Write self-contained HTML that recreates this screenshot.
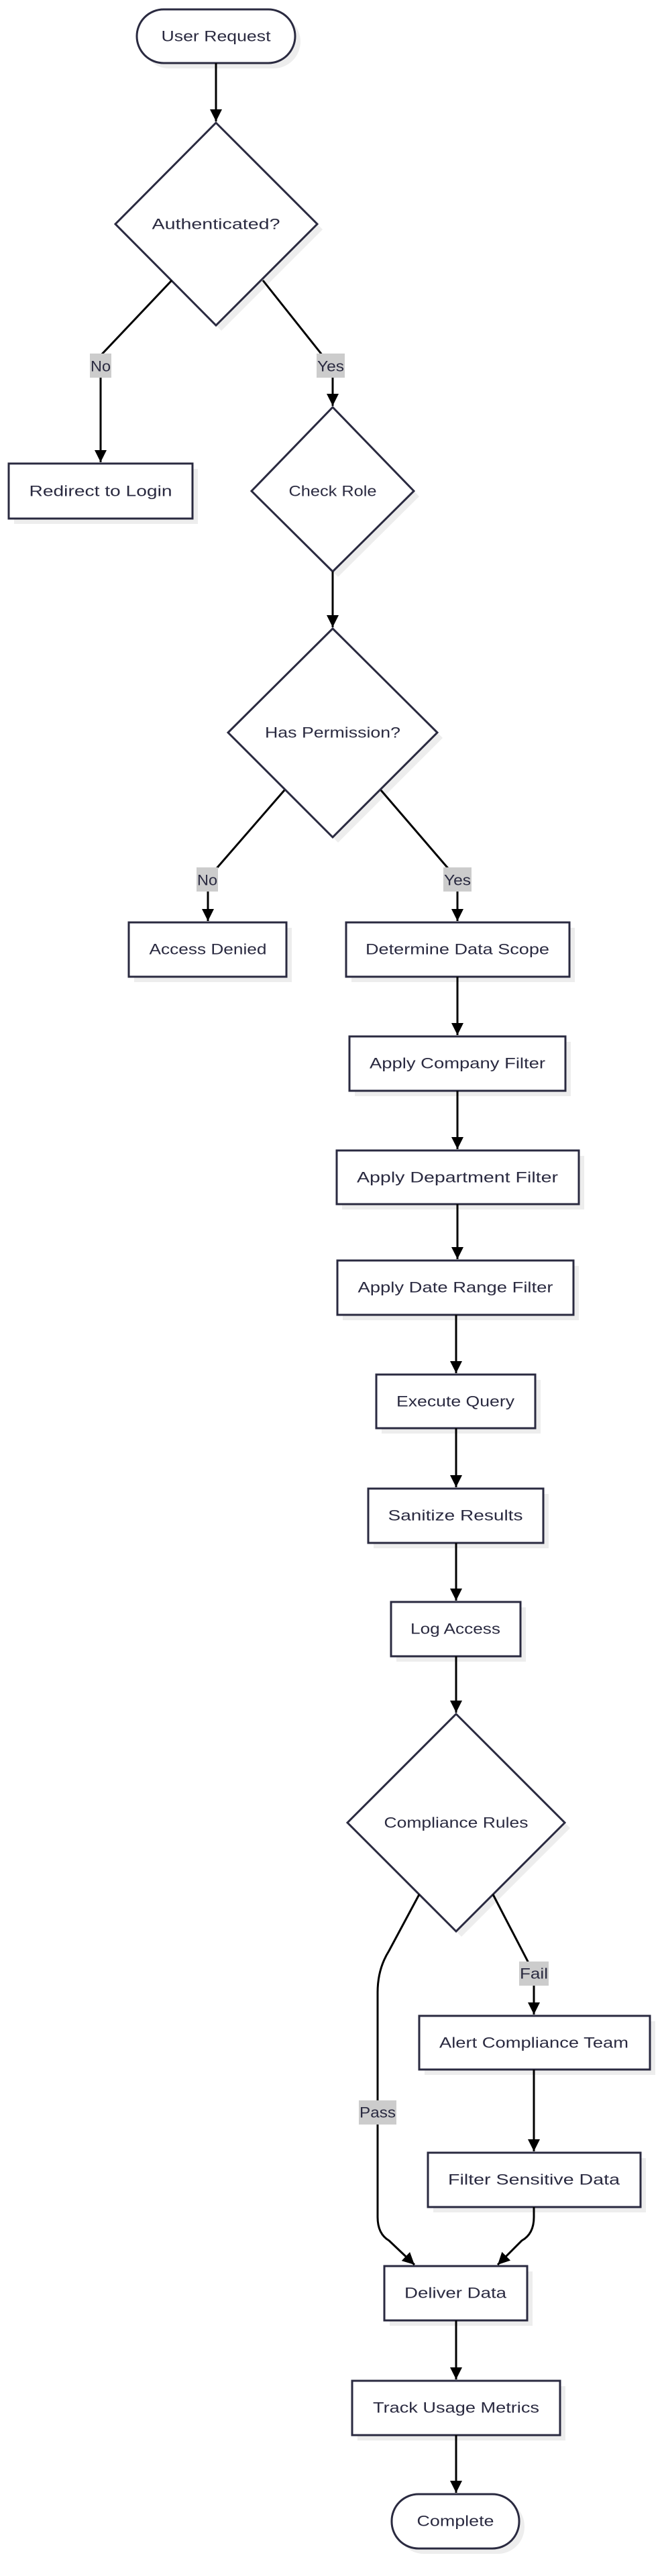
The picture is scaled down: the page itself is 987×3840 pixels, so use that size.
<!DOCTYPE html>
<html><head><meta charset="utf-8">
<style>
html,body{margin:0;padding:0;background:#fff;}
svg{display:block;}
text{font-family:"Liberation Sans",sans-serif;font-size:22px;fill:#2a2a40;}
</style></head>
<body>
<svg width="987" height="3840" viewBox="0 0 987 3840" xmlns="http://www.w3.org/2000/svg">
<defs>
<marker id="a" viewBox="0 0 10 10" refX="10" refY="5" markerUnits="userSpaceOnUse" markerWidth="20" markerHeight="18" orient="auto">
<path d="M0,0 L10,5 L0,10 z" fill="#000"/>
</marker>
</defs>

<!-- shadows -->
<g fill="#000" fill-opacity="0.07">
<rect x="212" y="22" width="236" height="80" rx="40"/>
<polygon points="330,191 481,342 330,493 180,342"/>
<rect x="21" y="699" width="274" height="82"/>
<polygon points="504,615 625,740 504,860 383,740"/>
<polygon points="504,945 660,1100 504,1256 348,1100"/>
<rect x="200" y="1383" width="235" height="81"/>
<rect x="524" y="1383" width="333" height="81"/>
<rect x="529" y="1553" width="322" height="81"/>
<rect x="510" y="1723" width="361" height="80"/>
<rect x="511" y="1887" width="352" height="81"/>
<rect x="569" y="2057" width="237" height="80"/>
<rect x="557" y="2227" width="261" height="81"/>
<rect x="591" y="2396" width="193" height="81"/>
<polygon points="688,2563 850,2725 688,2887 526,2725"/>
<rect x="633" y="3013" width="344" height="80"/>
<rect x="646" y="3217" width="317" height="81"/>
<rect x="581" y="3386" width="213" height="81"/>
<rect x="533" y="3557" width="310" height="81"/>
<rect x="592" y="3726" width="190" height="81" rx="40"/>
</g>

<!-- nodes -->
<g fill="#fff" stroke="#2a2a40" stroke-width="3">
<rect x="204" y="14" width="236" height="80" rx="40"/>
<polygon points="322,183 473,334 322,485 172,334"/>
<rect x="13" y="691" width="274" height="82"/>
<polygon points="496,607 617,732 496,852 375,732"/>
<polygon points="496,937 652,1092 496,1248 340,1092"/>
<rect x="192" y="1375" width="235" height="81"/>
<rect x="516" y="1375" width="333" height="81"/>
<rect x="521" y="1545" width="322" height="81"/>
<rect x="502" y="1715" width="361" height="80"/>
<rect x="503" y="1879" width="352" height="81"/>
<rect x="561" y="2049" width="237" height="80"/>
<rect x="549" y="2219" width="261" height="81"/>
<rect x="583" y="2388" width="193" height="81"/>
<polygon points="680,2555 842,2717 680,2879 518,2717"/>
<rect x="625" y="3005" width="344" height="80"/>
<rect x="638" y="3209" width="317" height="81"/>
<rect x="573" y="3378" width="213" height="81"/>
<rect x="525" y="3549" width="310" height="81"/>
<rect x="584" y="3718" width="190" height="81" rx="40"/>
</g>

<!-- edges -->
<g fill="none" stroke="#000" stroke-width="3">
<path d="M322,94 L322,181" marker-end="url(#a)"/>
<path d="M256,418 L150,530 L150,689" marker-end="url(#a)"/>
<path d="M392,418 L481,530 L496,560 L496,605" marker-end="url(#a)"/>
<path d="M496,852 L496,935" marker-end="url(#a)"/>
<path d="M424,1178 L325,1292 L310,1310 L310,1373" marker-end="url(#a)"/>
<path d="M568,1178 L666,1292 L682,1310 L682,1373" marker-end="url(#a)"/>
<path d="M682,1456 L682,1543" marker-end="url(#a)"/>
<path d="M682,1626 L682,1713" marker-end="url(#a)"/>
<path d="M682,1795 L682,1877" marker-end="url(#a)"/>
<path d="M680,1960 L680,2047" marker-end="url(#a)"/>
<path d="M680,2129 L680,2217" marker-end="url(#a)"/>
<path d="M680,2300 L680,2386" marker-end="url(#a)"/>
<path d="M680,2469 L680,2553" marker-end="url(#a)"/>
<path d="M735,2824 L787,2924 L796,2960 L796,3003" marker-end="url(#a)"/>
<path d="M625,2824 L580,2908 Q563,2935 563,2970 L563,3305 Q563,3330 580,3340 L618,3376" marker-end="url(#a)"/>
<path d="M796,3085 L796,3207" marker-end="url(#a)"/>
<path d="M796,3290 L796,3305 Q796,3330 778,3340 L742,3376" marker-end="url(#a)"/>
<path d="M680,3459 L680,3547" marker-end="url(#a)"/>
<path d="M680,3630 L680,3716" marker-end="url(#a)"/>
</g>

<!-- edge labels -->
<g fill="#cccccc">
<rect x="134" y="527" width="32" height="36"/>
<rect x="472" y="527" width="42" height="36"/>
<rect x="293" y="1293" width="32" height="36"/>
<rect x="661" y="1293" width="42" height="36"/>
<rect x="774" y="2924" width="44" height="36"/>
<rect x="535" y="3131" width="56" height="36"/>
</g>
<g text-anchor="middle" dominant-baseline="central">
<text x="150" y="546" textLength="30" lengthAdjust="spacingAndGlyphs">No</text>
<text x="493" y="546" textLength="40" lengthAdjust="spacingAndGlyphs">Yes</text>
<text x="309" y="1312" textLength="30" lengthAdjust="spacingAndGlyphs">No</text>
<text x="682" y="1312" textLength="40" lengthAdjust="spacingAndGlyphs">Yes</text>
<text x="796" y="2942" textLength="42" lengthAdjust="spacingAndGlyphs">Fail</text>
<text x="563" y="3149" textLength="54" lengthAdjust="spacingAndGlyphs">Pass</text>

<text x="322" y="54" textLength="163" lengthAdjust="spacingAndGlyphs">User Request</text>
<text x="322" y="334" textLength="191" lengthAdjust="spacingAndGlyphs">Authenticated?</text>
<text x="150" y="732" textLength="213" lengthAdjust="spacingAndGlyphs">Redirect to Login</text>
<text x="496" y="732" textLength="131" lengthAdjust="spacingAndGlyphs">Check Role</text>
<text x="496" y="1092" textLength="202" lengthAdjust="spacingAndGlyphs">Has Permission?</text>
<text x="310" y="1415" textLength="175" lengthAdjust="spacingAndGlyphs">Access Denied</text>
<text x="682" y="1415" textLength="274" lengthAdjust="spacingAndGlyphs">Determine Data Scope</text>
<text x="682" y="1585" textLength="262" lengthAdjust="spacingAndGlyphs">Apply Company Filter</text>
<text x="682" y="1755" textLength="300" lengthAdjust="spacingAndGlyphs">Apply Department Filter</text>
<text x="679" y="1919" textLength="291" lengthAdjust="spacingAndGlyphs">Apply Date Range Filter</text>
<text x="679" y="2089" textLength="176" lengthAdjust="spacingAndGlyphs">Execute Query</text>
<text x="679" y="2259" textLength="201" lengthAdjust="spacingAndGlyphs">Sanitize Results</text>
<text x="679" y="2428" textLength="134" lengthAdjust="spacingAndGlyphs">Log Access</text>
<text x="680" y="2717" textLength="215" lengthAdjust="spacingAndGlyphs">Compliance Rules</text>
<text x="796" y="3045" textLength="282" lengthAdjust="spacingAndGlyphs">Alert Compliance Team</text>
<text x="796" y="3249" textLength="256" lengthAdjust="spacingAndGlyphs">Filter Sensitive Data</text>
<text x="679" y="3418" textLength="152" lengthAdjust="spacingAndGlyphs">Deliver Data</text>
<text x="680" y="3589" textLength="248" lengthAdjust="spacingAndGlyphs">Track Usage Metrics</text>
<text x="679" y="3758" textLength="115" lengthAdjust="spacingAndGlyphs">Complete</text>
</g>
</svg>
</body></html>
